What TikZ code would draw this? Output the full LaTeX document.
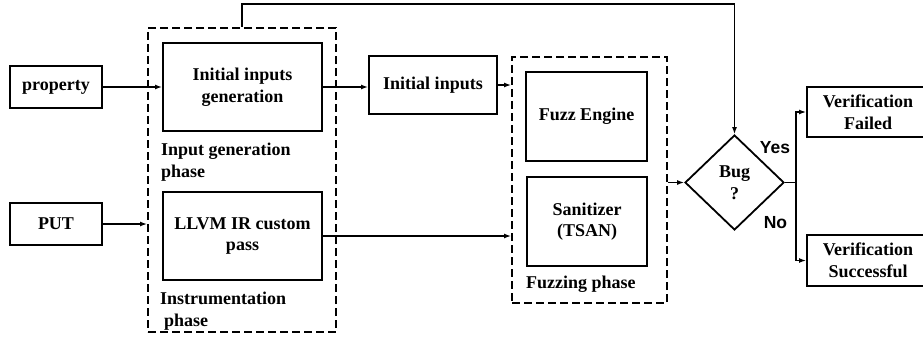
\documentclass[tikz,border=0pt]{standalone}
\usepackage{fontspec}
\setmainfont{Liberation Serif}
\newfontfamily\labelsans{Liberation Sans}
\usetikzlibrary{arrows.meta,shapes.geometric}

\begin{document}
\begin{tikzpicture}[
        x=1pt, y=-1pt,
        font=\fontsize{18}{21.5}\selectfont\bfseries,
        box/.style = {shape=rectangle, draw, line width=2pt,
          align=center, inner sep=0pt},
        phasebox/.style = {shape=rectangle, draw, line width=2pt,
          dash pattern=on 8pt off 4pt, inner sep=0pt},
        phaselabel/.style = {align=left, inner sep=0pt},
        decision/.style = {shape=diamond, draw, line width=1.8pt,
          align=center, inner sep=0pt},
        answer/.style = {inner sep=0pt,
          font=\labelsans\fontsize{17.5}{21}\selectfont\bfseries},
        flow/.style = {line width=1.3pt, -{Latex[length=7pt,width=5pt]}}
        ]
        \useasboundingbox (0,0) rectangle (923,337);
        % inputs
        \node[box, minimum width=92pt, minimum height=42pt] (property) at (56,87) {property};
        \node[box, minimum width=92pt, minimum height=42pt] (put) at (56,224) {PUT};
        % input generation and instrumentation
        \node[phasebox, minimum width=188pt, minimum height=304pt] (genphase) at (242,180) {};
        \node[box, minimum width=159pt, minimum height=88pt] (initgen) at (242.5,87) {Initial inputs\\generation};
        \node[box, minimum width=159pt, minimum height=88pt] (llvmpass) at (242.5,236) {LLVM IR custom\\pass};
        \node[phaselabel, anchor=north west] (genlabel) at (161,143) {Input generation\\phase};
        \node[phaselabel, anchor=north west] (instlabel) at (160,292) {Instrumentation\\\hspace*{4pt}phase};
        \node[box, minimum width=128pt, minimum height=57pt] (initinputs) at (433,85) {Initial inputs};
        % fuzzing
        \node[phasebox, minimum width=155pt, minimum height=246pt] (fuzzphase) at (589.5,180) {};
        \node[box, minimum width=121pt, minimum height=89pt] (fuzzengine) at (586.5,116.5) {Fuzz Engine};
        \node[box, minimum width=120pt, minimum height=89pt] (sanitizer) at (587,221.5) {Sanitizer\\(TSAN)};
        \node[phaselabel, anchor=base west] (fuzzlabel) at (526,288) {Fuzzing phase};
        % decision and results
        \node[decision, minimum width=99pt, minimum height=95pt] (bug) at (734.5,182.5) {Bug\\?};
        \node[box, minimum width=122pt, minimum height=50pt] (failed) at (868,112) {Verification\\Failed};
        \node[box, minimum width=122pt, minimum height=51pt] (success) at (868,260.5) {Verification\\Successful};
        \node[answer] (yes) at (775,148) {Yes};
        \node[answer] (no) at (775.5,223) {No};
        \coordinate (feedtop) at (242,4);
        \coordinate (split) at (796,182.5);
        % connectors
        \draw[flow] (property.east) -- (initgen.west);
        \draw[flow] (put.east) -- (put.east -| genphase.west);
        \draw[flow] (initgen.east) -- (initgen.east -| initinputs.west);
        \draw[flow] (initinputs.east) -- (initinputs.east -| fuzzphase.west);
        \draw[flow] (llvmpass.east) -- (llvmpass.east -| fuzzphase.west);
        \draw[flow] (fuzzphase.east |- bug.west) -- (bug.west);
        \draw[flow] (genphase.north) -- (feedtop) -| (bug.north);
        \draw[line width=1.3pt] (bug.east) -- (split);
        \draw[flow] (split) |- (failed.west);
        \draw[flow] (split) |- (success.west);
    \end{tikzpicture}
\end{document}
